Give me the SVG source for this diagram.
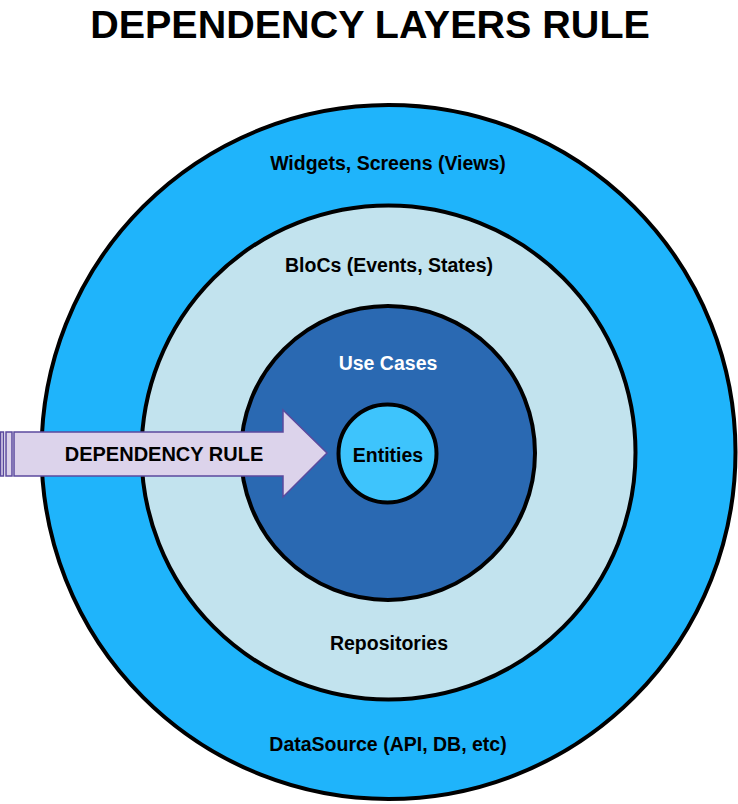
<svg xmlns="http://www.w3.org/2000/svg" width="738" height="804" viewBox="0 0 738 804">
<style>
.ring{stroke:#000;stroke-width:4}
.lbl{font-family:"Liberation Sans",Arial,sans-serif;font-weight:bold;font-size:19.5px;text-anchor:middle;fill:#000}
.arrow{fill:#DCD3EB;stroke:#5B4A9E;stroke-width:1.5}
</style>
<rect width="738" height="804" fill="#fff"/>
<text x="370" y="38" style="font-family:'Liberation Sans',Arial,sans-serif;font-weight:bold;font-size:39.5px;text-anchor:middle">DEPENDENCY LAYERS RULE</text>
<g id="views">
<circle class="ring" cx="388.5" cy="452" r="347" fill="#1FB4FB"/>
<text class="lbl" x="388" y="170">Widgets, Screens (Views)</text>
<text class="lbl" x="388" y="751">DataSource (API, DB, etc)</text>
</g>
<g id="blocs">
<circle class="ring" cx="388.5" cy="452.5" r="247" fill="#C2E3EE"/>
<text class="lbl" x="389" y="272">BloCs (Events, States)</text>
<text class="lbl" x="389" y="650">Repositories</text>
</g>
<g id="usecases">
<circle class="ring" cx="388" cy="453" r="147" fill="#2A69B2"/>
<text class="lbl" x="388" y="370" style="fill:#fff">Use Cases</text>
</g>
<g id="connectors">
<rect class="arrow" x="0.5" y="432" width="3" height="44"/>
<rect class="arrow" x="6" y="432" width="6" height="44"/>
<path class="arrow" d="M14 432 H283 V410 L327 453 L283 497 V476 H14 Z"/>
<text x="164" y="461" style="font-family:'Liberation Sans',Arial,sans-serif;font-weight:bold;font-size:20px;text-anchor:middle">DEPENDENCY RULE</text>
</g>
<g id="entities">
<circle class="ring" cx="387.5" cy="453.5" r="49" fill="#3EC4FC"/>
<text class="lbl" x="388" y="462">Entities</text>
</g>
</svg>
